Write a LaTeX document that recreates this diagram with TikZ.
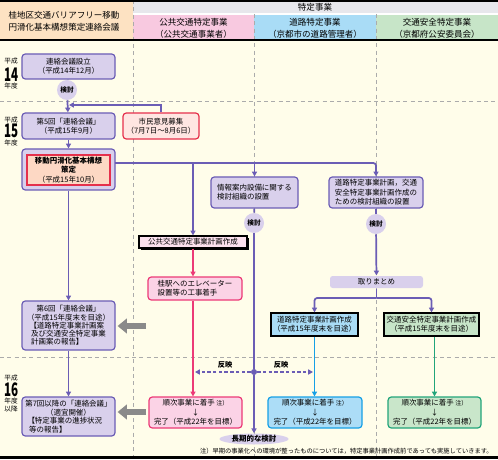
\documentclass[tikz,border=0pt]{standalone}
\usepackage{fontspec}
\usepackage{graphicx}
\setmainfont{Noto Sans CJK JP}
\usetikzlibrary{arrows.meta,calc,shapes.geometric,shadows}
\newdimen\px \px=0.75pt
\definecolor{bgc}{HTML}{FFFDEA}
\definecolor{hpeach}{HTML}{FDE2C2}
\definecolor{hgrey}{HTML}{E7E7EC}
\definecolor{hpink}{HTML}{F8C9E0}
\definecolor{hblue}{HTML}{A9DCF6}
\definecolor{hgreen}{HTML}{C7E5C8}
\definecolor{pfill}{HTML}{D9D0EC}
\definecolor{pline}{HTML}{6B5DB5}
\definecolor{pinkline}{HTML}{EC3A77}
\definecolor{pinkfill}{HTML}{FBD3E6}
\definecolor{hboxfill}{HTML}{FCE1EE}
\definecolor{redb}{HTML}{E5304C}
\definecolor{salmon}{HTML}{FDD8C4}
\definecolor{citfill}{HTML}{FFE6E2}
\definecolor{blueline}{HTML}{16A0E6}
\definecolor{bluefill}{HTML}{ACDDF7}
\definecolor{greenline}{HTML}{22A57A}
\definecolor{greenfill}{HTML}{C9E6CA}
\definecolor{grayarrow}{HTML}{8A8A8A}
\definecolor{dashc}{HTML}{ABABAB}
\newcommand{\bxfont}{\fontsize{5.6pt}{7pt}\selectfont}
\newcommand{\yrnum}[1]{\scalebox{0.62}[1]{\fontsize{14pt}{14pt}\selectfont\bfseries #1}}
\begin{document}
\begin{tikzpicture}[x=0.75pt,y=-0.75pt,
  anybox/.style={inner sep=0pt,align=center,font=\bxfont,line width=0.9pt},
  pbox/.style={anybox,draw=pline,fill=pfill,rounded corners=2.5pt},
  kcirc/.style={circle,fill=pfill,inner sep=0pt,minimum size=20\px,font=\fontsize{5pt}{5pt}\selectfont\bfseries},
  fl/.style={draw=pline,line width=1.3pt},
  arr/.style={-{Triangle[length=3.6pt,width=3.8pt]}},
  pl/.style={draw=pinkline,line width=1.3pt},
  bl/.style={draw=blueline,line width=1.3pt},
  gl/.style={draw=greenline,line width=1.3pt},
  dl/.style={draw=pline,line width=1.3pt,dash pattern=on 2.5pt off 1.8pt},
  gar/.style={draw=grayarrow,line width=4.5pt,-{Triangle[length=7pt,width=11pt]}},
  sep/.style={draw=dashc,line width=0.6pt,dash pattern=on 3pt off 2.5pt},
  htext/.style={align=center,inner sep=0pt,font=\fontsize{6.4pt}{9pt}\selectfont},
  yr/.style={inner sep=0pt,text height=4pt,text depth=0.4pt,font=\fontsize{5pt}{6pt}\selectfont},
  yrn/.style={inner sep=0pt,text height=9.6pt,text depth=0pt}]
\useasboundingbox (0,0) rectangle (498,459);
% backgrounds
\fill[bgc] (0,0) rectangle (498,459);
\fill[hpeach] (0,0) rectangle (133,40);
\fill[hgrey] (133,0) rectangle (498,14);
\fill[hpink] (133,14) rectangle (254,40);
\fill[hblue] (254,14) rectangle (376,40);
\fill[hgreen] (376,14) rectangle (498,40);
\draw[white,line width=0.8pt] (133,14) -- (498,14);
% separators
\draw[sep] (133,0) -- (133,457);
\draw[sep] (254,14) -- (254,457);
\draw[sep] (376,14) -- (376,457);
\draw[sep] (0,101) -- (498,101);
\draw[sep] (0,357) -- (498,357);
% borders
\draw[black,line width=1.2pt] (0,0.8) -- (498,0.8);
\draw[black,line width=1.2pt] (0,40) -- (498,40);
\draw[black,line width=1.8pt] (0,457.5) -- (498,457.5);
% header texts
\node[htext] (h0) at (64,21) {桂地区交通バリアフリー移動\\円滑化基本構想策定連絡会議};
\node[htext] (h1) at (315,7.5) {特定事業};
\node[htext] (h2) at (193.5,28) {公共交通特定事業\\（公共交通事業者）};
\node[htext] (h3) at (315,28) {道路特定事業\\（京都市の道路管理者）};
\node[htext] (h4) at (437,28) {交通安全特定事業\\（京都府公安委員会）};
% years
\node[yr] (y14a) at (11,61.5) {平成};
\node[yrn] (y14) at (11.5,75) {\yrnum{14}};
\node[yr] (y14b) at (11,86) {年度};
\node[yr] (y15a) at (11,120) {平成};
\node[yrn] (y15) at (11.5,131.5) {\yrnum{15}};
\node[yr] (y15b) at (11,143) {年度};
\node[yr] (y16a) at (11,378.5) {平成};
\node[yrn] (y16) at (11.5,390) {\yrnum{16}};
\node[yr] (y16b) at (11,401.5) {年度};
\node[yr] (y16c) at (11,409.5) {以降};
% left column
\node[pbox,minimum width=93\px,minimum height=25\px] (A) at (68.5,66.5) {連絡会議設立\\（平成14年12月）};
\node[kcirc] (k1) at (67,90) {検討};
\node[pbox,minimum width=93\px,minimum height=26\px] (B) at (68.5,126) {第5回「連絡会議」\\（平成15年9月）};
\node[anybox,draw=redb,fill=citfill,rounded corners=2.5pt,minimum width=76\px,minimum height=26\px] (P) at (161,126) {市民意見募集\\（7月7日～8月6日）};
\node[pbox,minimum width=93\px,minimum height=41\px] (C) at (68.5,169.5) {};
\node[anybox,draw=redb,fill=salmon,minimum width=83\px,minimum height=30\px] (Cin) at (68.5,170) {\bfseries 移動円滑化基本構想\\\bfseries 策定\\（平成15年10月）};
\node[pbox,minimum width=93\px,minimum height=49\px,font=\fontsize{5.6pt}{6.2pt}\selectfont] (M) at (68.5,325.5) {第6回「連絡会議」\\（平成15年度末を目途）\\\makebox[78\px][l]{【道路特定事業計画案}\\\makebox[78\px][l]{\ 及び交通安全特定事業}\\\makebox[78\px][l]{\ 計画案の報告】}};
\node[pbox,minimum width=93\px,minimum height=39\px,font=\fontsize{5.6pt}{6.4pt}\selectfont] (N) at (68.5,416.5) {第7回以降の「連絡会議」\\（適宜開催）\\\makebox[82\px][l]{【特定事業の進捗状況}\\\makebox[82\px][l]{\ 等の報告】}};
% middle
\node[pbox,align=left,minimum width=87\px,minimum height=31\px] (D) at (254.5,192.5) {情報案内設備に関する\\検討組織の設置};
\node[kcirc] (k2) at (254,223) {検討};
\node[pbox,align=left,minimum width=94\px,minimum height=31\px] (E) at (376,192.5) {道路特定事業計画，交通\\安全特定事業計画作成の\\ための検討組織の設置};
\node[kcirc] (k3) at (376,224) {検討};
\node[anybox,draw=black,fill=hboxfill,minimum width=108\px,minimum height=12\px,drop shadow={shadow xshift=1.2pt,shadow yshift=-1.2pt,fill=black,opacity=1}] (H) at (193,242) {公共交通特定事業計画作成};
\node[anybox,align=left,draw=pinkline,fill=pinkfill,rounded corners=2.5pt,minimum width=94\px,minimum height=23\px] (I) at (195,288.5) {桂駅へのエレベーター\\設置等の工事着手};
\node[anybox,fill=pfill,rounded corners=2pt,minimum width=93\px,minimum height=12\px] (R) at (376.5,282) {取りまとめ};
\node[anybox,draw=black,fill=hblue,minimum width=87\px,minimum height=23\px] (F) at (314.5,324.5) {道路特定事業計画作成\\（平成15年度末を目途）};
\node[anybox,draw=black,fill=hgreen,minimum width=95\px,minimum height=23\px] (G) at (431.5,324.5) {交通安全特定事業計画作成\\（平成15年度末を目途）};
\node[anybox,draw=pinkline,fill=pinkfill,rounded corners=2.5pt,minimum width=93\px,minimum height=31\px] (J) at (195.5,412.5) {順次事業に着手 {\fontsize{4.5pt}{5pt}\selectfont 注）}\\↓\\完了（平成22年を目標）};
\node[anybox,draw=blueline,fill=bluefill,rounded corners=2.5pt,minimum width=94\px,minimum height=31\px] (K) at (315,412.5) {順次事業に着手 {\fontsize{4.5pt}{5pt}\selectfont 注）}\\↓\\完了（平成22年を目標）};
\node[anybox,draw=greenline,fill=greenfill,rounded corners=2.5pt,minimum width=93\px,minimum height=31\px] (L) at (434.5,412.5) {順次事業に着手 {\fontsize{4.5pt}{5pt}\selectfont 注）}\\↓\\完了（平成22年を目標）};
\node[ellipse,fill=pfill,inner sep=0pt,minimum width=69\px,minimum height=11\px,font=\fontsize{5.6pt}{6pt}\selectfont\bfseries] (ell) at (254,439) {長期的な検討};
\node[circle,fill=pline,inner sep=0pt,minimum size=6\px] (dot) at (254,372) {};
% connectors left
\draw[fl] (A) -- (k1);
\draw[fl,arr] (k1) -- (B);
\coordinate (pj) at (69,105);
\draw[fl,arr] (P.north) |- (pj);
\draw[fl,arr] (B) -- (C);
\draw[fl,arr] (C) -- (M);
\draw[fl,arr] (M) -- (N);
% main branch
\coordinate (c1) at (115,163);
\coordinate (c2) at (376,163);
\draw[fl,arr,rounded corners=2pt] (c1) -- (c2) -- (E.north);
\coordinate (bH) at (H.north |- c1);
\coordinate (bD) at (D.north |- c1);
\draw[fl,arr] (bH) -- (H.north);
\draw[fl,arr] (bD) -- (D.north);
\draw[fl] (D) -- (k2);
\draw[fl,arr] (k2) -- (dot) -- (ell);
\draw[fl] (E) -- (k3);
\draw[fl,arr] (k3) -- (R);
\coordinate (r1) at (376.5,298);
\draw[fl] (R.south) -- (r1);
\draw[fl,arr,rounded corners=2pt] (r1) -| (F.north);
\draw[fl,arr,rounded corners=2pt] (r1) -| (G.north);
% coloured flows
\draw[pl,arr] (H.south) -- (H.south |- I.north);
\draw[pl,arr] (H.south |- I.south) -- (H.south |- J.north);
\draw[bl,arr] (F.south) -- (F.south |- K.north);
\draw[gl,arr] (L.north |- G.south) -- (L.north);
% reflection
\coordinate (rf1) at (195,372);
\coordinate (rf2) at (313,372);
\draw[dl,arr] (dot) -- (rf1);
\draw[dl,arr] (dot) -- (rf2);
\node[inner sep=0pt,font=\fontsize{5.4pt}{6pt}\selectfont\bfseries] (rl1) at (225,365) {反映};
\node[inner sep=0pt,font=\fontsize{5.4pt}{6pt}\selectfont\bfseries] (rl2) at (281,365) {反映};
% grey arrows
\coordinate (g1) at (146,326);
\coordinate (g2) at (146,412);
\draw[gar,shorten >=1.5pt] (g1) -- (g1 -| M.east);
\draw[gar,shorten >=1.5pt] (g2) -- (g2 -| N.east);
% footnote
\node[anchor=east,inner sep=0pt,font=\fontsize{4.7pt}{5pt}\selectfont] (fn) at (493,451) {注）早期の事業化への環境が整ったものについては，特定事業計画作成前であっても実施していきます。};
\end{tikzpicture}
\end{document}
